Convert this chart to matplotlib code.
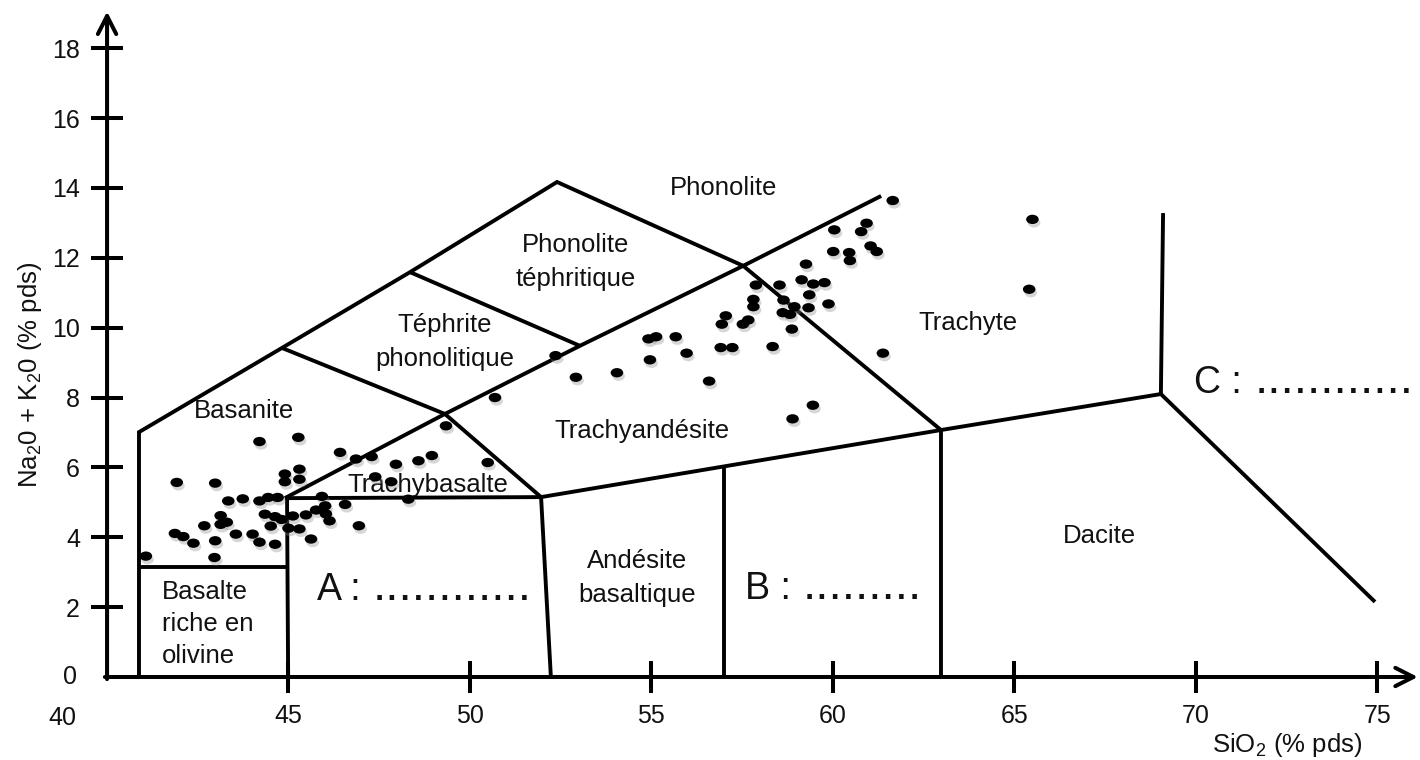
"""Diagramme TAS (Na2O + K2O vs SiO2) avec les analyses reportées."""

import matplotlib
matplotlib.use("Agg")
import matplotlib.pyplot as plt
import matplotlib.patheffects as pe
from matplotlib.patches import ArrowStyle
from matplotlib.path import Path
from matplotlib.transforms import Affine2D

plt.rcParams["font.family"] = ["Liberation Sans", "DejaVu Sans"]

# --------------------------------------------------------------------- données

x_ticks = [45, 50, 55, 60, 65, 70, 75]
y_ticks = [2, 4, 6, 8, 10, 12, 14, 16, 18]

# Analyses (SiO2 %, Na2O + K2O %)
si_o2 = [
    44.20, 45.27, 46.42, 41.92, 42.98, 44.90, 44.90, 45.30, 45.30, 43.34,
    43.74, 44.20, 44.44, 44.70, 45.92, 46.56, 46.01, 45.76, 45.48, 45.12,
    44.35, 44.63, 44.81, 43.13, 43.30, 43.13, 42.68, 44.51, 46.03, 46.13,
    45.00, 45.30, 41.87, 42.10, 42.38, 42.98, 43.55, 44.01, 44.20, 44.63,
    45.62, 41.07, 42.96, 49.34, 46.86, 47.29, 47.96, 48.58, 48.95, 50.49,
    47.39, 47.83, 48.30, 46.94, 52.36, 52.92, 54.05, 54.96, 54.92, 55.13,
    55.67, 55.97, 56.59, 56.91, 57.23, 57.05, 56.94, 57.52, 57.67, 61.65,
    60.93, 60.78, 60.04, 61.04, 61.21, 60.01, 60.45, 60.47, 59.26, 57.88,
    58.53, 59.14, 59.46, 59.77, 59.35, 57.81, 57.81, 58.64, 58.94, 59.33,
    59.88, 58.62, 58.82, 58.87, 58.34, 61.38, 59.45, 58.89, 65.50, 65.41,
    50.69,
]
alcalins = [
    6.74, 6.86, 6.43, 5.57, 5.55, 5.81, 5.59, 5.95, 5.66, 5.04,
    5.10, 5.04, 5.14, 5.14, 5.17, 4.94, 4.90, 4.78, 4.64, 4.61,
    4.66, 4.59, 4.51, 4.62, 4.43, 4.37, 4.33, 4.32, 4.67, 4.47,
    4.26, 4.24, 4.11, 4.02, 3.83, 3.90, 4.09, 4.09, 3.86, 3.80,
    3.95, 3.46, 3.42, 7.19, 6.24, 6.31, 6.09, 6.19, 6.34, 6.14,
    5.73, 5.59, 5.09, 4.33, 9.20, 8.58, 8.71, 9.08, 9.68, 9.74,
    9.74, 9.27, 8.47, 9.43, 9.43, 10.34, 10.10, 10.10, 10.22, 13.64,
    12.99, 12.75, 12.80, 12.34, 12.18, 12.18, 12.15, 11.92, 11.82, 11.22,
    11.22, 11.37, 11.25, 11.29, 10.94, 10.81, 10.60, 10.79, 10.60, 10.57,
    10.68, 10.43, 10.38, 9.96, 9.46, 9.27, 7.78, 7.39, 13.10, 11.10,
    8.00,
]

# Limites des domaines (polylignes, en % pds)
limites = [
    [(40.88, 0), (40.88, 7.01), (44.82, 9.42), (48.35, 11.59), (52.40, 14.17),
     (57.53, 11.77), (62.98, 7.07), (62.98, 0)],
    [(44.90, 5.12), (49.31, 7.53), (53.03, 9.48), (57.53, 11.77), (61.33, 13.77)],
    [(44.82, 9.42), (49.31, 7.53), (51.96, 5.15)],
    [(48.35, 11.59), (53.03, 9.48)],
    [(44.90, 5.12), (51.96, 5.15), (52.23, 0)],
    [(44.96, 5.12), (44.99, 0)],
    [(40.88, 3.15), (44.99, 3.15)],
    [(51.96, 5.15), (62.98, 7.07), (69.04, 8.10), (74.94, 2.15)],
    [(69.04, 8.10), (69.10, 13.28)],
    [(57.0, 6.07), (57.0, 0)],
]

# --------------------------------------------------------------------- figure

fig = plt.figure(figsize=(14.2, 7.6), dpi=100)
ax = fig.add_axes([0, 0, 1, 1])
ax.set_xlim(37.05, 76.18)
ax.set_ylim(-2.376, 19.38)

for s in ax.spines.values():
    s.set_visible(False)
ax.spines["left"].set_position(("data", 40))
ax.spines["bottom"].set_position(("data", 0))

# Axes avec flèche ouverte
fleche = ArrowStyle("->", head_length=0.65, head_width=0.33)
ax.annotate("", xy=(40, 19.05), xytext=(40, -0.06), annotation_clip=False,
            arrowprops=dict(arrowstyle=fleche, lw=2.9, color="black",
                            shrinkA=0, shrinkB=0, mutation_scale=20))
ax.annotate("", xy=(76.12, 0), xytext=(39.94, 0), annotation_clip=False,
            arrowprops=dict(arrowstyle=fleche, lw=2.9, color="black",
                            shrinkA=0, shrinkB=0, mutation_scale=20))

ax.set_xticks(x_ticks)
ax.set_yticks(y_ticks)
ax.tick_params(direction="inout", length=23, width=2.9, labelsize=18, pad=8,
               color="black", labelcolor="#111111")
ax.text(38.98, 0, "0", fontsize=18, ha="center", va="center", color="#111111")
ax.text(38.76, -1.17, "40", fontsize=18, ha="center", va="center", color="#111111")

# Domaines
for poly in limites:
    xs, ys = zip(*poly)
    ax.plot(xs, ys, color="black", lw=2.8, solid_joinstyle="miter",
            solid_capstyle="butt", zorder=2)

# Points (ellipses noires avec ombre portée)
ellipse = Path.unit_circle().transformed(Affine2D().scale(1.0, 0.74))
pts = ax.scatter(si_o2, alcalins, marker=ellipse, s=82, c="black",
                 linewidths=0, zorder=3)
pts.set_path_effects([
    pe.SimplePatchShadow(offset=(1.2, -2.5), shadow_rgbFace=(0.55, 0.55, 0.55), alpha=0.35),
    pe.Normal(),
])

# Noms des domaines
noms = [
    ("Phonolite", 57.00, 14.00),
    ("Phonolite\ntéphritique", 52.92, 11.88),
    ("Téphrite\nphonolitique", 49.31, 9.59),
    ("Basanite", 43.78, 7.62),
    ("Trachybasalte", 48.85, 5.50),
    ("Trachyandésite", 54.74, 7.04),
    ("Trachyte", 63.73, 10.13),
    ("Dacite", 67.34, 4.04),
    ("Andésite\nbasaltique", 54.60, 2.83),
]
for txt, x, y in noms:
    ax.text(x, y, txt, fontsize=18.5, ha="center", va="center",
            linespacing=1.5, color="#111111", zorder=1)
ax.text(41.52, 1.52, "Basalte\nriche en\nolivine", fontsize=18.5, ha="left",
        va="center", linespacing=1.4, color="#111111")

# Domaines à compléter
for lettre, xl, xd, yb, n in [("A :", 45.79, 47.33, 2.20, 12),
                              ("B :", 57.58, 59.18, 2.23, 9),
                              ("C :", 69.95, 71.63, 8.12, 12)]:
    ax.text(xl, yb, lettre, fontsize=27, ha="left", va="baseline", color="#111111")
    ax.text(xd, yb, "." * n, fontsize=34, ha="left", va="baseline", color="#111111")

# Titres des axes
ax.text(37.88, 8.65, r"Na$_\mathregular{2}$0 + K$_\mathregular{2}$0 (% pds)",
        fontsize=18.5, rotation=90, ha="center", va="center", color="#111111")
ax.text(72.52, -1.95, r"SiO$_\mathregular{2}$ (% pds)", fontsize=18.5,
        ha="center", va="center", color="#111111")

fig.savefig("out.png", dpi=100)
